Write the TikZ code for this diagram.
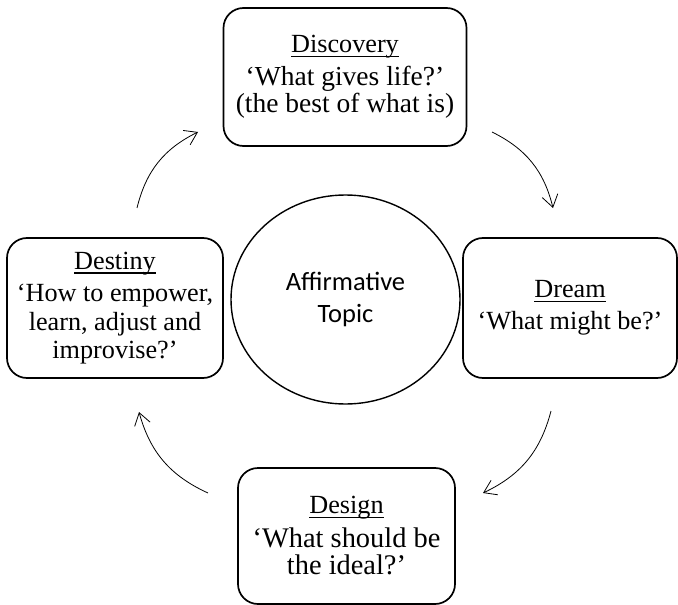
\documentclass[tikz,border=0pt]{standalone}
\usepackage{fontspec}
\setmainfont{Liberation Serif}
\newfontfamily\topicfont{Carlito}
\usetikzlibrary{arrows.meta,shapes.geometric}

% underlined heading word, rule at a fixed depth below the baseline
\newcommand\headword[1]{\setbox0\hbox{#1}\rlap{\rule[-4.5bp]{\wd0}{1.5bp}}\box0}
\newcommand\bigbody{\fontsize{28.4bp}{26bp}\selectfont}
\newcommand\midbody{\fontsize{27.5bp}{27bp}\selectfont}

\begin{document}
\begin{tikzpicture}[x=1bp,y=-1bp,
  phase/.style={rectangle,draw,line width=1.7bp,rounded corners=20bp,align=center,inner sep=0pt,font=\fontsize{26.2bp}{27bp}\selectfont},
  topic/.style={ellipse,draw,line width=1.4bp,minimum width=229bp,minimum height=209bp,align=center,inner sep=0pt,font=\topicfont\fontsize{26.5bp}{32bp}\selectfont},
  flow/.style={-{Straight Barb[length=12bp,width=16bp]},line width=0.8bp},
]
\useasboundingbox (0,0) rectangle (678,605);

% Centre: the topic
\node[topic] (topic) at (345.5,299.5) {Affirmative\\Topic};

% Four phases round it
\node[phase,minimum width=243bp,minimum height=138bp] (discovery) at (345,77)
  {\headword{Discovery}\\[6bp]\midbody`What gives life?'\\\midbody(the best of what is)};
\node[phase,minimum width=214bp,minimum height=140bp] (dream) at (570,308)
  {\headword{Dream}\\[5bp]`What might be?'};
\node[phase,minimum width=217bp,minimum height=136bp] (design) at (346.5,536)
  {\headword{Design}\\[7bp]\bigbody`What should be\\\bigbody the ideal?'};
\node[phase,minimum width=216bp,minimum height=140bp,font=\fontsize{26.2bp}{28.5bp}\selectfont] (destiny) at (115,308)
  {\headword{Destiny}\\[4bp]`How to empower,\\learn, adjust and\\improvise?'};

% Ends of the curved arrows
\coordinate (dest-out) at (137,208);
\coordinate (disc-in) at (198,132);
\coordinate (disc-out) at (492,132);
\coordinate (dream-in) at (553,208);
\coordinate (dream-out) at (551,411);
\coordinate (des-in) at (483,493);
\coordinate (des-out) at (208,493);
\coordinate (dest-in) at (139,412);

\draw[flow] (dest-out) to[bend left=25] (disc-in);
\draw[flow] (disc-out) to[bend left=25] (dream-in);
\draw[flow] (dream-out) to[bend left=25] (des-in);
\draw[flow] (des-out) to[bend left=25] (dest-in);
\end{tikzpicture}
\end{document}
